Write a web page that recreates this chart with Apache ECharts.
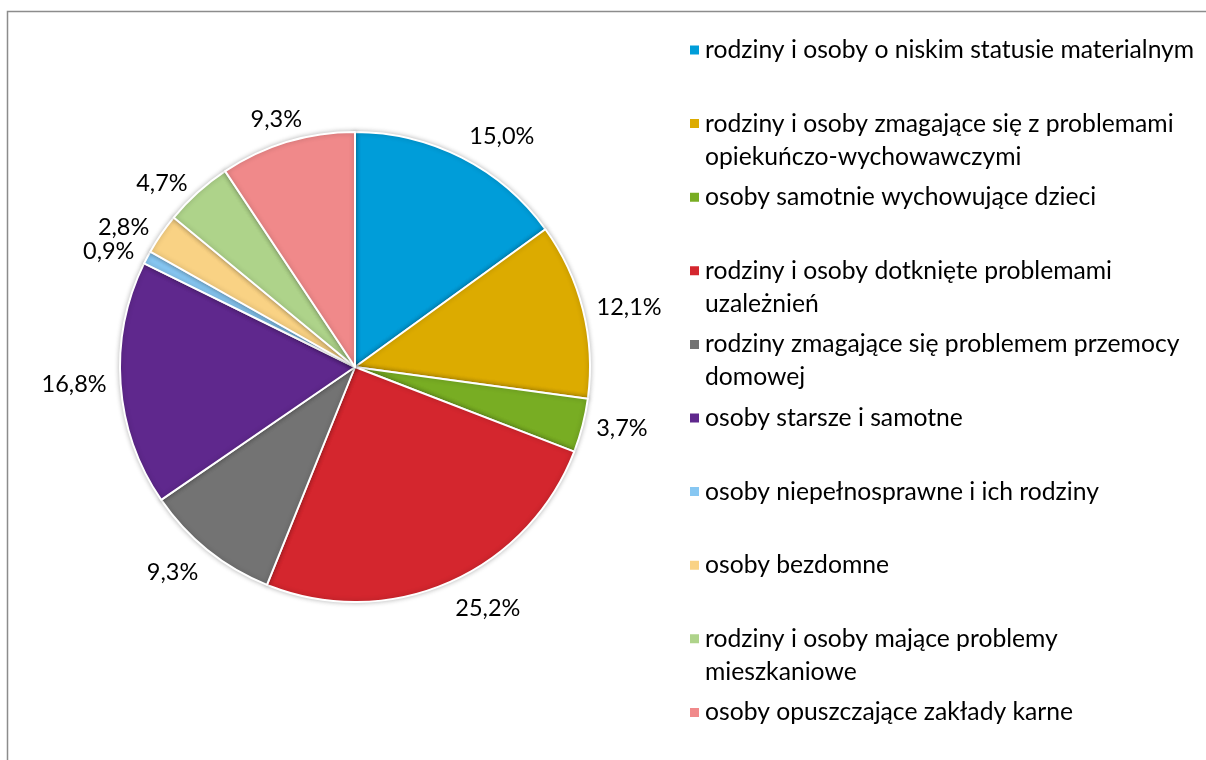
<!DOCTYPE html>
<html>
<head>
<meta charset="utf-8">
<title>pie</title>
<script src="https://cdn.jsdelivr.net/npm/echarts@6/dist/echarts.min.js"></script>
<style>
    html, body { margin: 0; padding: 0; background: #fff; }
    #chart { width: 1206px; height: 760px; }
</style>
</head>
<body>
<div id="chart"></div>
<script>
// kategorie (legenda) i udzial procentowy
var categories = [
    'rodziny i osoby o niskim statusie materialnym',
    'rodziny i osoby zmagające się z problemami\nopiekuńczo-wychowawczymi',
    'osoby samotnie wychowujące dzieci',
    'rodziny i osoby dotknięte problemami\nuzależnień',
    'rodziny zmagające się problemem przemocy\ndomowej',
    'osoby starsze i samotne',
    'osoby niepełnosprawne i ich rodziny',
    'osoby bezdomne',
    'rodziny i osoby mające problemy\nmieszkaniowe',
    'osoby opuszczające zakłady karne'
];
var values = [15.0, 12.1, 3.7, 25.2, 9.3, 16.8, 0.9, 2.8, 4.7, 9.3];

var colors = ['#009dd9', '#dcab00', '#78ad23', '#d4262e', '#737373',
              '#5f288d', '#87c7f2', '#f9d284', '#aed38a', '#f0898a'];

var chart = echarts.init(document.getElementById('chart'));
var font = 'Lato, "Open Sans", sans-serif';
var pieCenter = [355, 367],
    pieRadius = 235,
    labelDist = 2;

var pieData = categories.map(function (name, i) {
    return {name: name, value: values[i], itemStyle: {color: colors[i]}};
});

/**
 * legenda - osobny komponent na kazda pozycje, zeby odstepy byly rowne
 * przy dwoch liniach pusta linia na poczatku trzyma ikone przy pierwszej
 */
var legends = categories.map(function (name, i) {
    var wrapped = name.indexOf('\n') > -1,
        rowY = 50 + i * 73.6;
    return {
        orient: 'vertical',
        left: 688,
        top: wrapped ? rowY - 49.5 : rowY - 16.5,
        padding: 0,
        icon: 'rect',
        itemWidth: 11,
        itemHeight: 11,
        selectedMode: false,
        data: [name],
        formatter: function (n) {
            return wrapped ? '\n' + n : n;
        },
        textStyle: {
            fontFamily: font,
            fontSize: 24.7,
            color: '#000',
            lineHeight: 33
        }
    };
});

// przesuniecie etykiet troche jak w excelu (gora/dol odsuniete od kola)
function moveLabel(p) {
    var r = p.labelRect,
        ax = p.align === 'right' ? r.x + r.width + labelDist : r.x - labelDist,
        ay = r.y + r.height / 2,
        vx = ax - pieCenter[0],
        vy = ay - pieCenter[1],
        len = Math.sqrt(vx * vx + vy * vy),
        ux = vx / len,
        uy = vy / len,
        out = {dx: 0, dy: 0};

    if (Math.abs(uy) > 0.75) out.dy = uy * r.height / 2;
    if (uy > 0.75) out.dy += 4;
    if (Math.abs(ux) < 0.35) {
        var cx = r.x + r.width / 2;
        out.dx = ax + ux * r.width / 2 - cx;
    }
    return out;
}

var option = {
    animation: false,
    backgroundColor: '#fff',
    graphic: [{
        type: 'rect',
        shape: {x: 7.5, y: 11.5, width: 1300, height: 900},
        style: {fill: 'none', stroke: '#8c8c8c', lineWidth: 1.5},
        silent: true,
        z: -10
    }],
    legend: legends,
    series: [{
        type: 'pie',
        center: pieCenter,
        radius: [0, pieRadius],
        startAngle: 90,
        clockwise: true,
        avoidLabelOverlap: false,
        itemStyle: {
            borderColor: '#fff',
            borderWidth: 2,
            shadowBlur: 5,
            shadowColor: 'rgba(0,0,0,0.25)'
        },
        label: {
            show: true,
            position: 'outside',
            fontFamily: font,
            fontSize: 23.5,
            color: '#000',
            distanceToLabelLine: labelDist,
            formatter: function (p) {
                return p.value.toFixed(1).replace('.', ',') + '%';
            }
        },
        labelLine: {show: false, length: 12, length2: 0},
        labelLayout: moveLabel,
        data: pieData
    }]
};

chart.setOption(option);
</script>
</body>
</html>
